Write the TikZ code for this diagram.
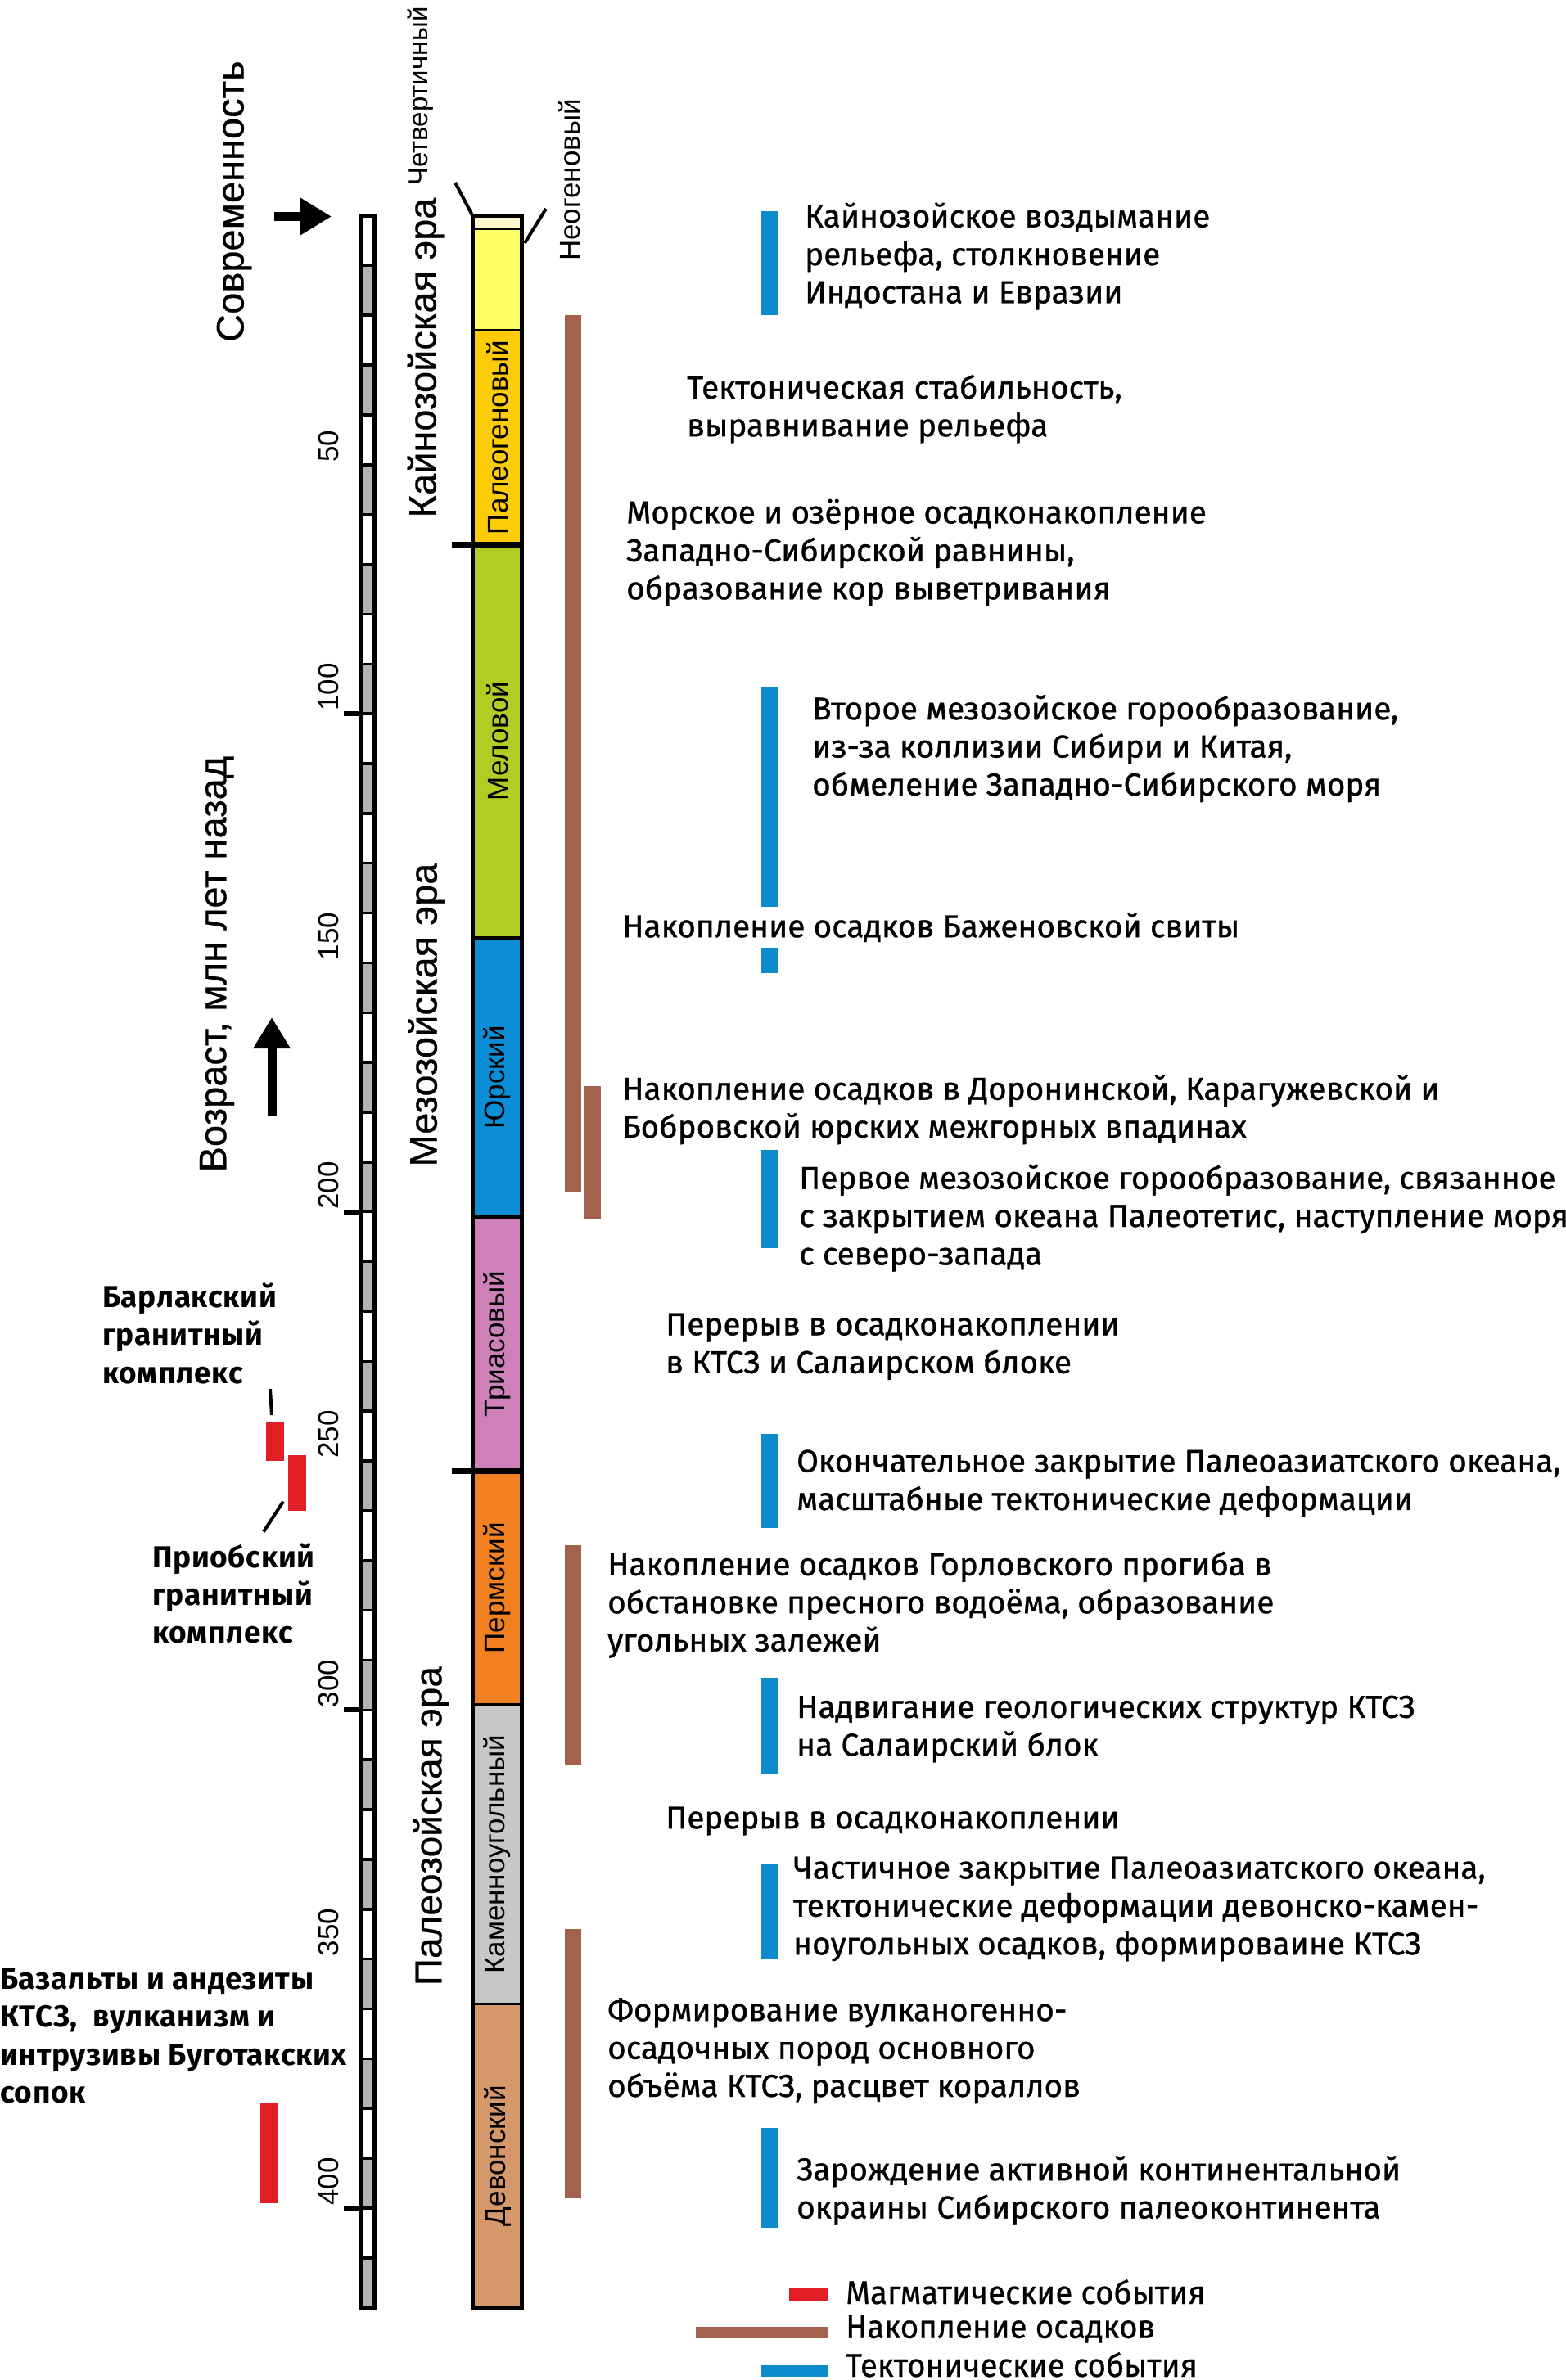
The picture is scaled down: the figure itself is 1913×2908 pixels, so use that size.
\documentclass[tikz,border=0pt]{standalone}
\usepackage{fontspec}
\setmainfont{Liberation Sans}
\newfontfamily\erafont[FakeBold=0.5]{Liberation Sans}
\newfontfamily\eventfont[FakeBold=0.9]{Fira Sans}
\newfontfamily\notefont[LetterSpace=1.8]{Fira Sans}
\newfontfamily\legendfont[FakeStretch=0.96, FakeBold=0.5]{Fira Sans}
\usetikzlibrary{arrows.meta}

\definecolor{quatcolor}{RGB}{255,249,205}
\definecolor{neogcolor}{RGB}{255,255,102}
\definecolor{paleogcolor}{RGB}{253,204,8}
\definecolor{cretcolor}{RGB}{178,204,36}
\definecolor{jurcolor}{RGB}{12,142,214}
\definecolor{triascolor}{RGB}{206,128,184}
\definecolor{permcolor}{RGB}{240,128,32}
\definecolor{carbcolor}{RGB}{198,200,198}
\definecolor{devcolor}{RGB}{212,152,106}
\definecolor{scalegray}{RGB}{179,179,179}
\definecolor{sedbrown}{RGB}{163,98,78}
\definecolor{tecblue}{RGB}{12,140,204}
\definecolor{magred}{RGB}{226,30,38}

\begin{document}
\begin{tikzpicture}[x=1pt, y=-1pt,
  declare function={ma(\t)=263.5+6.086*\t;},
  eventtext/.style={font=\eventfont\fontsize{38.7}{46.4}\selectfont, align=left, anchor=north west, inner sep=0pt, yshift=32.48pt, execute at begin node=\strut},
  sidetext/.style={font=\notefont\bfseries\fontsize{37}{46.4}\selectfont, align=left, anchor=north west, inner sep=0pt, yshift=32.48pt, execute at begin node=\strut},
  legendtext/.style={font=\legendfont\fontsize{40}{48}\selectfont, anchor=base west, inner sep=0pt},
  periodname/.style={font=\fontsize{35}{42}\selectfont, rotate=90, inner sep=0pt},
  eraname/.style={font=\erafont\fontsize{47}{54}\selectfont, rotate=90, inner sep=0pt},
  agenum/.style={font=\fontsize{35}{42}\selectfont, rotate=90, anchor=west, inner sep=0pt},
  bigtitle/.style={font=\erafont\fontsize{47}{56}\selectfont, rotate=90, inner sep=0pt},
  leader/.style={line width=4pt},
  bigarrow/.style={line width=11pt, -{Triangle[length=38pt, width=43pt]}},
  sedbar/.style={fill=sedbrown},
  tecbar/.style={fill=tecblue},
  magbar/.style={fill=magred},
]
\useasboundingbox (0,0) rectangle (1913,2908);

\foreach \i in {1,3,...,41}
  \fill[scalegray] (440.5,{ma(10*\i)}) rectangle (457.5,{ma(10*\i+10)});
\foreach \i in {1,...,41}
  \draw[line width=3.5pt] (440.5,{ma(10*\i)}) -- (457.5,{ma(10*\i)});
\foreach \t in {100,200,300,400}
  \draw[line width=6pt] (420,{ma(\t)}) -- (440.5,{ma(\t)});
\draw[line width=5pt] (440.5,{ma(0)}) rectangle (457.5,{ma(420)});
\foreach \t in {50,100,...,400}
  \node[agenum] (age\t) at (401,{ma(\t)-3}) {\t};

\foreach \a/\b/\c in {0/2.6/quatcolor, 2.6/23/neogcolor, 23/66/paleogcolor, 66/145/cretcolor, 145/201/jurcolor, 201/252/triascolor, 252/299/permcolor, 299/359/carbcolor, 359/420/devcolor}
  \fill[\c] (577.5,{ma(\a)}) rectangle (637.5,{ma(\b)});
\foreach \a/\b/\n in {23/66/Палеогеновый, 66/145/Меловой, 145/201/Юрский, 201/252/Триасовый, 252/299/Пермский, 299/359/Каменноугольный, 359/420/Девонский}
  \node[periodname] (period\a) at (607.5,{ma((\a+\b)/2)}) {\n};
\foreach \t in {2.6,23,145,201,299,359}
  \draw[line width=3.5pt] (577.5,{ma(\t)}) -- (637.5,{ma(\t)});
\foreach \t in {66,252}
  \draw[line width=7pt] (552,{ma(\t)}) -- (637.5,{ma(\t)});
\draw[line width=5pt] (577.5,{ma(0)}) rectangle (637.5,{ma(420)});

\node[periodname, anchor=west, font=\fontsize{33}{40}\selectfont] (quatname) at (514,227) {Четвертичный};
\node[periodname, anchor=west] (neogname) at (696,319) {Неогеновый};
\coordinate (quatfoot) at (556,223);
\coordinate (quattop) at (577,263);
\coordinate (neogfoot) at (667,255);
\coordinate (neogtop) at (641,297);
\draw[leader] (quatfoot) -- (quattop);
\draw[leader] (neogfoot) -- (neogtop);

\node[eraname] (cenozoic) at (520,437) {Кайнозойская эра};
\node[eraname] (mesozoic) at (521,1240) {Мезозойская эра};
\node[eraname, font=\erafont\fontsize{46}{54}\selectfont] (paleozoic) at (527,2231) {Палеозойская эра};

\node[bigtitle] (present) at (286,246) {Современность};
\node[bigtitle] (agetitle) at (265,1178) {Возраст, млн лет назад};
\coordinate (nowtail) at (335,264.5);
\coordinate (nowtip) at (405,264.5);
\coordinate (uptail) at (332,1364);
\coordinate (uptip) at (332,1243);
\draw[bigarrow] (nowtail) -- (nowtip);
\draw[bigarrow] (uptail) -- (uptip);

\fill[magbar] (325,{ma(242.2)}) rectangle (347,{ma(250)});
\fill[magbar] (352,{ma(248.8)}) rectangle (374,{ma(260)});
\fill[magbar] (318,{ma(378.8)}) rectangle (340,{ma(399)});
\coordinate (barlakfoot) at (330,1697);
\coordinate (barlaktop) at (332,1729);
\coordinate (priobfoot) at (346,1834.5);
\coordinate (priobtop) at (322,1871.6);
\draw[leader] (barlakfoot) -- (barlaktop);
\draw[leader] (priobfoot) -- (priobtop);
\node[sidetext] (barlak) at (125,1600) {Барлакский\\гранитный\\комплекс};
\node[sidetext] (priob) at (186,1917.6) {Приобский\\гранитный\\комплекс};
\node[sidetext] (basalt) at (0,2437) {Базальты и андезиты\\КТСЗ,\ \ вулканизм и\\интрузивы Буготакских\\сопок};

\fill[sedbar] (690,{ma(20)}) rectangle (710,{ma(196)});
\fill[sedbar] (714,{ma(174.7)}) rectangle (734,{ma(201.5)});
\fill[sedbar] (690,{ma(267)}) rectangle (710,{ma(311)});
\fill[sedbar] (690,{ma(344)}) rectangle (710,{ma(398)});
\foreach \a/\b in {-0.9/20, 94.8/138.7, 147/152, 187.5/207.3, 244.5/263.5, 293.6/312.8, 330.8/350, 383.9/404}
  \fill[tecbar] (930,{ma(\a)}) rectangle (951,{ma(\b)});

\node[eventtext] (uplift) at (983,280) {Кайнозойское воздымание\\рельефа, столкновение\\Индостана и Евразии};
\node[eventtext] (stability) at (839,490) {Тектоническая стабильность,\\выравнивание рельефа};
\node[eventtext] (westsib) at (765,642) {Морское и озёрное осадконакопление\\Западно-Сибирской равнины,\\образование кор выветривания};
\node[eventtext] (secondorog) at (992,881.5) {Второе мезозойское горообразование,\\из-за коллизии Сибири и Китая,\\обмеление Западно-Сибирского моря};
\node[eventtext] (bazhen) at (760,1145) {Накопление осадков Баженовской свиты};
\node[eventtext] (basins) at (760,1346) {Накопление осадков в Доронинской, Карагужевской и\\Бобровской юрских межгорных впадинах};
\node[eventtext] (firstorog) at (976,1455) {Первое мезозойское горообразование, связанное\\с закрытием океана Палеотетис, наступление моря\\с северо-запада};
\node[eventtext] (gapone) at (813,1637) {Перерыв в осадконакоплении\\в КТСЗ и Салаирском блоке};
\node[eventtext] (finalclose) at (973,1803.7) {Окончательное закрытие Палеоазиатского океана,\\масштабные тектонические деформации};
\node[eventtext] (gorlovka) at (742,1928) {Накопление осадков Горловского прогиба в\\обстановке пресного водоёма, образование\\угольных залежей};
\node[eventtext] (thrust) at (973,2104) {Надвигание геологических структур КТСЗ\\на Салаирский блок};
\node[eventtext] (gaptwo) at (813,2234) {Перерыв в осадконакоплении};
\node[eventtext] (partclose) at (969,2301) {Частичное закрытие Палеоазиатского океана,\\тектонические деформации девонско-камен-\\ноугольных осадков, формироваине КТСЗ};
\node[eventtext] (volcanic) at (742,2473.5) {Формирование вулканогенно-\\осадочных пород основного\\объёма КТСЗ, расцвет кораллов};
\node[eventtext] (margin) at (973,2666.5) {Зарождение активной континентальной\\окраины Сибирского палеоконтинента};

\fill[magbar] (964,2796) rectangle (1012,2812);
\fill[sedbar] (850,2843) rectangle (1012,2857);
\fill[tecbar] (930,2890) rectangle (1012,2904);
\node[legendtext] (magmakey) at (1033,2815) {Магматические события};
\node[legendtext] (sedkey) at (1033,2856.7) {Накопление осадков};
\node[legendtext] (teckey) at (1033,2904) {Тектонические события};
\end{tikzpicture}
\end{document}
